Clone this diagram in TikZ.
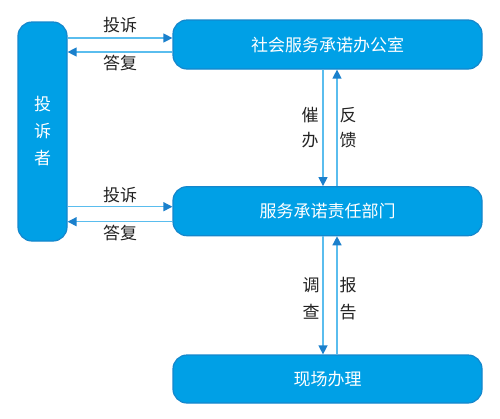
\documentclass[tikz,border=0pt]{standalone}
\usepackage{fontspec}
\setmainfont{Noto Sans CJK SC}
\usetikzlibrary{arrows.meta}
\definecolor{boxblue}{HTML}{00A0E6}
\definecolor{boxedge}{HTML}{1487CC}
\definecolor{lineblue}{HTML}{5ABDEE}
\definecolor{tipblue}{HTML}{1A80CC}
\definecolor{labelgray}{HTML}{222222}

\begin{document}
\begin{tikzpicture}[x=1pt, y=-1pt]

    \tikzset{boxstyle/.style={draw=boxedge, fill=boxblue, line width=1.2pt, rounded corners=14pt,
        text=white, font=\fontsize{17}{20}\selectfont, inner sep=0pt}}
    \tikzset{flowstyle/.style={draw=lineblue, line width=1.3pt, -{Triangle[length=9pt,width=9pt,color=tipblue]}}}
    \tikzset{labelstyle/.style={text=labelgray, font=\fontsize{17}{25}\selectfont, align=center, inner sep=0pt}}

    \useasboundingbox (0,0) rectangle (500,418);

    \node[boxstyle, minimum width=49pt, minimum height=219pt, align=center,
          font=\fontsize{17}{27}\selectfont] (user) at (42.5, 131.5) {投\\诉\\者};
    \node[boxstyle, minimum width=309pt, minimum height=49pt] (office) at (327.5, 44.5) {社会服务承诺办公室};
    \node[boxstyle, minimum width=309pt, minimum height=49pt] (dept) at (327.5, 211.2) {服务承诺责任部门};
    \node[boxstyle, minimum width=309pt, minimum height=48pt] (site) at (327.5, 379) {现场办理};

    % complaint and reply
    \draw[flowstyle] ([yshift=6.5pt]office.west -| user.east) -- ([yshift=6.5pt]office.west);
    \draw[flowstyle] ([yshift=-7.5pt]office.west) -- ([yshift=-7.5pt]office.west -| user.east);
    \draw[flowstyle] ([yshift=4.5pt]dept.west -| user.east) -- ([yshift=4.5pt]dept.west);
    \draw[flowstyle] ([yshift=-10.5pt]dept.west) -- ([yshift=-10.5pt]dept.west -| user.east);

    % down and up
    \draw[flowstyle] ([xshift=-4.5pt]office.south) -- ([xshift=-4.5pt]dept.north);
    \draw[flowstyle] ([xshift=9.5pt]dept.north) -- ([xshift=9.5pt]office.south);
    \draw[flowstyle] ([xshift=-4.5pt]dept.south) -- ([xshift=-4.5pt]site.north);
    \draw[flowstyle] ([xshift=9.5pt]site.north) -- ([xshift=9.5pt]dept.south);

    \node[labelstyle] (t1) at (120, 25) {投诉};
    \node[labelstyle] (r1) at (120, 63) {答复};
    \node[labelstyle] (t2) at (120, 195) {投诉};
    \node[labelstyle] (r2) at (120, 233) {答复};
    \node[labelstyle] (urge) at (310, 127.5) {催\\办};
    \node[labelstyle] (back) at (348, 127.5) {反\\馈};
    \node[labelstyle, font=\fontsize{17}{27}\selectfont] (check) at (311, 298.5) {调\\查};
    \node[labelstyle, font=\fontsize{17}{27}\selectfont] (report) at (348, 298.5) {报\\告};
\end{tikzpicture}
\end{document}
